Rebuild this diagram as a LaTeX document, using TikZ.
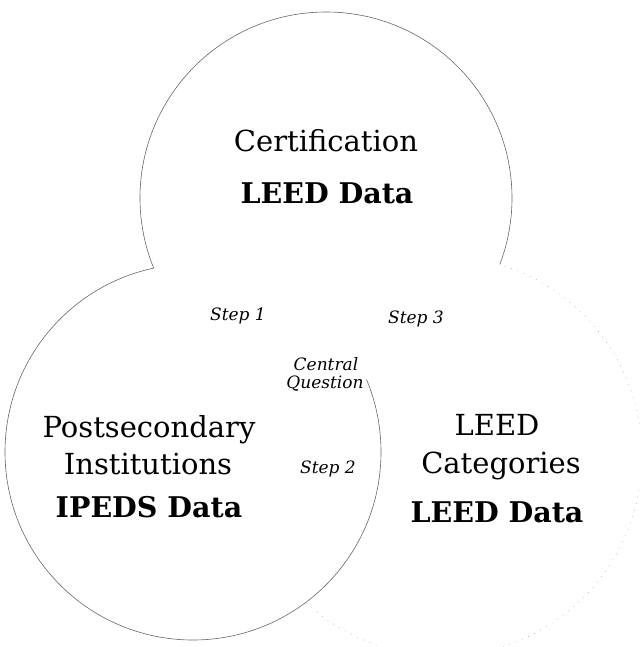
\documentclass[tikz,border=0pt]{standalone}
\usepackage{fontspec}
\setmainfont{DejaVu Serif}
\begin{document}
\begin{tikzpicture}[x=1pt,y=-1pt,
  ring/.style={draw=black!60,line width=0.6pt},
  faintring/.style={draw=black!35,line width=0.5pt,dash pattern=on 0.8pt off 6pt},
  big/.style={font=\fontsize{29}{32}\selectfont,inner sep=0pt,anchor=base},
  bigb/.style={font=\fontsize{28.5}{32}\selectfont\bfseries,inner sep=0pt,anchor=base},
  small/.style={font=\fontsize{17}{19}\selectfont\itshape,inner sep=0pt,anchor=base}]
\useasboundingbox (0,0) rectangle (639,647);
% top circle, outside the two lower circles
\begin{scope}[even odd rule]
  \clip (-5,-5) rectangle (660,660) (193,452) circle (188);
  \clip (-5,-5) rectangle (660,660) (442,456) circle (200);
  \draw[ring,nonzero rule] (326,198) circle (186);
\end{scope}
% left circle, outside the top circle
\begin{scope}[even odd rule]
  \clip (-5,-5) rectangle (660,660) (326,198) circle (186);
  \draw[ring,nonzero rule] (193,452) circle (188);
\end{scope}
% right circle, faint, outside the other two
\begin{scope}[even odd rule]
  \clip (-5,-5) rectangle (660,660) (326,198) circle (186);
  \clip (-5,-5) rectangle (660,660) (193,452) circle (188);
  \draw[faintring,nonzero rule] (442,456) circle (200);
\end{scope}
\node[big]  (cert)  at (326,152) {Certification};
\node[bigb] (leed1) at (327,203) {LEED Data};
\node[small] (s1) at (238,320) {Step 1};
\node[small] (s3) at (416,323) {Step 3};
\node[small] (cq1) at (326,370) {Central};
\node[small] (cq2) at (325,388) {Question};
\node[big]  (post) at (149,437) {Postsecondary};
\node[big]  (inst) at (148,474) {Institutions};
\node[bigb] (iped) at (149,517) {IPEDS Data};
\node[small] (s2) at (328,473) {Step 2};
\node[big]  (leedc) at (497,435) {LEED};
\node[big]  (cat)   at (501,473) {Categories};
\node[bigb] (leed2) at (497,522) {LEED Data};
\end{tikzpicture}
\end{document}
